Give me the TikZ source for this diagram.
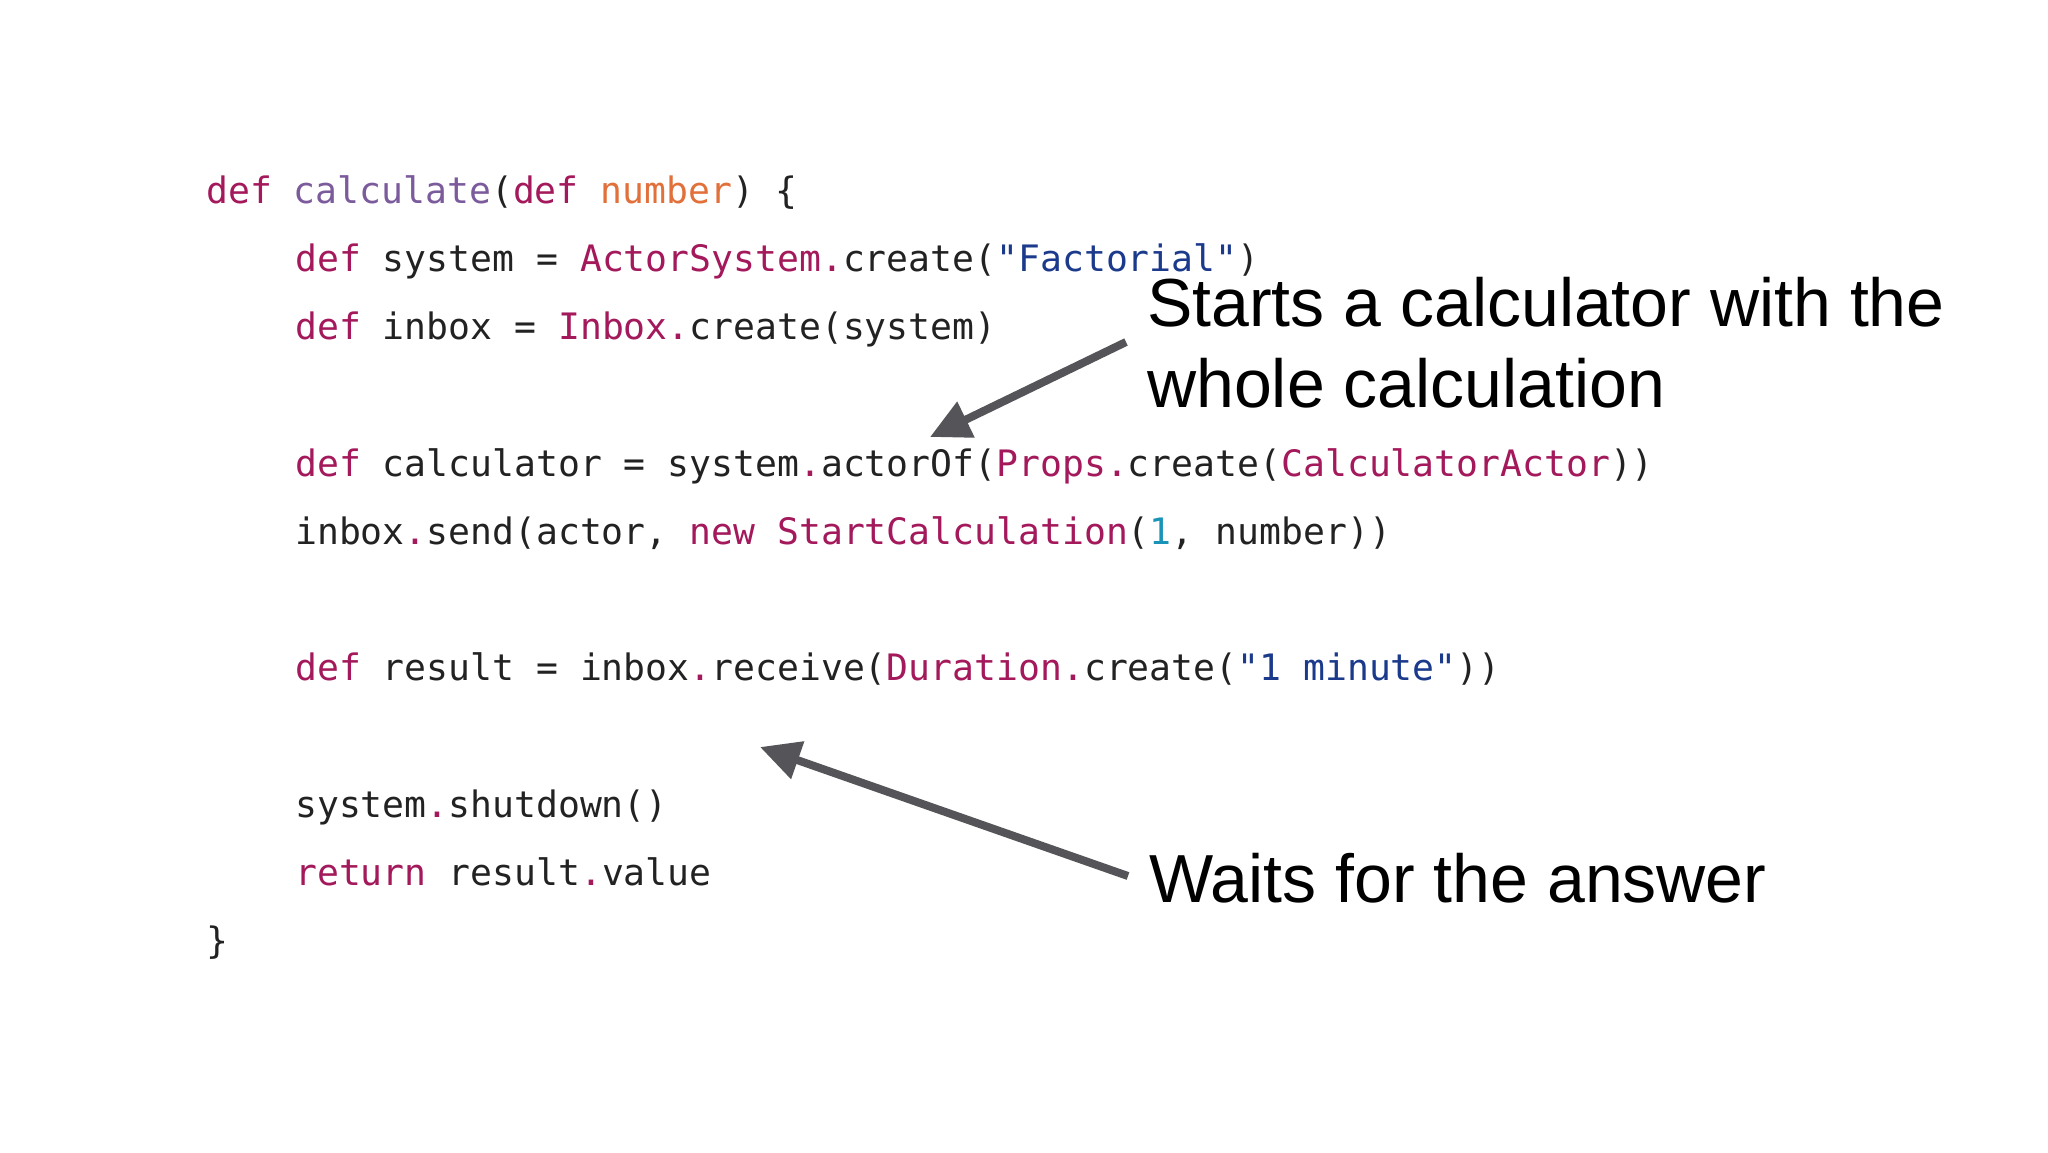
\documentclass[tikz,border=0pt]{standalone}
\usepackage{fontspec}
\setmainfont{Liberation Sans}
\newfontfamily\codefont{DejaVu Sans Mono}
\usetikzlibrary{arrows.meta}
\definecolor{kw}{HTML}{A3195B}
\definecolor{fn}{HTML}{7B5B9C}
\definecolor{pa}{HTML}{E2703A}
\definecolor{st}{HTML}{1B3A8C}
\definecolor{nu}{HTML}{1A93B8}
\definecolor{tx}{HTML}{222222}
\definecolor{ar}{HTML}{555559}
\newcommand{\K}[1]{\textcolor{kw}{#1}}
\newcommand{\D}{\textcolor{kw}{.}}
\begin{document}
\begin{tikzpicture}[x=1pt,y=-1pt,
  code/.style={anchor=base west,inner sep=0pt,font=\codefont\fontsize{36.4}{40}\selectfont,text=tx},
  note/.style={anchor=base west,inner sep=0pt,font=\fontsize{68}{81}\selectfont,text=black},
  arr/.style={draw=ar,line width=8pt,-{Triangle[length=40pt,width=38pt]}}]
\useasboundingbox (0,0) rectangle (2048,1152);
\fill[white] (0,0) rectangle (2048,1152);
\node[code] (l0) at (206,203) {\K{def} \textcolor{fn}{calculate}(\K{def} \textcolor{pa}{number}) \{};
\node[code] (l1) at (295,271) {\K{def} system = \K{ActorSystem.}create(\textcolor{st}{"Factorial"})};
\node[code] (l2) at (295,339) {\K{def} inbox = \K{Inbox.}create(system)};
\node[code] (l4) at (295,476) {\K{def} calculator = system\D actorOf(\K{Props.}create(\K{CalculatorActor}))};
\node[code] (l5) at (295,544) {inbox\D send(actor, \K{new} \K{StartCalculation}(\textcolor{nu}{1}, number))};
\node[code] (l7) at (295,680) {\K{def} result = inbox\D receive(\K{Duration.}create(\textcolor{st}{"1 minute"}))};
\node[code] (l9) at (295,817) {system\D shutdown()};
\node[code] (l10) at (295,885) {\K{return} result\D value};
\node[code] (l11) at (206,953) {\}};
\node[note] (n1a) at (1147,326) {Starts a calculator with the};
\node[note] (n1b) at (1147,407) {whole calculation};
\node[note] (n2) at (1149,902) {Waits for the answer};
\coordinate (a1s) at (1126,342);
\coordinate (a1e) at (930,437);
\coordinate (a2s) at (1128,876);
\coordinate (a2e) at (760,747);
\draw[arr] (a1s) -- (a1e);
\draw[arr] (a2s) -- (a2e);
\end{tikzpicture}
\end{document}
